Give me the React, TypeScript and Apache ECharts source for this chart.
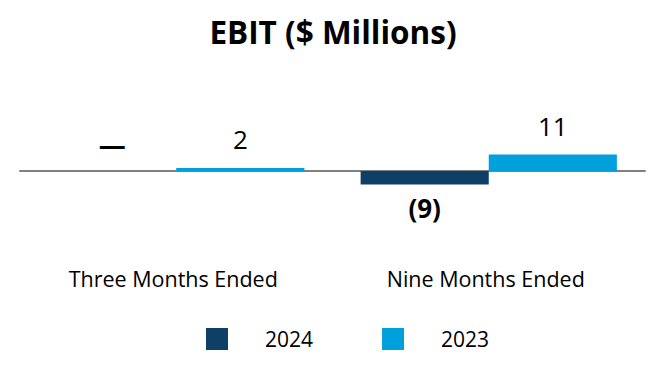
import React, { useEffect, useRef } from "react";
import * as echarts from "echarts";

const categories = ["Three Months Ended", "Nine Months Ended"];
const seriesNames = ["2024", "2023"];
const values2024 = [0, -9];
const values2023 = [2, 11];
const colors = ["#0e3f67", "#00a0dc"];

const FONT = "'Open Sans', 'Noto Sans', sans-serif";

function fmt(v: number): string {
  if (v === 0) return "—";
  if (v < 0) return "(" + Math.abs(v) + ")";
  return String(v);
}

function labelFor(v: number) {
  return {
    show: true,
    position: v < 0 ? "bottom" : "top",
    distance: v < 0 ? 10 : v === 0 ? 13 : 16,
    formatter: fmt(v),
    fontFamily: FONT,
    fontSize: v === 0 ? 27 : 26,
    color: "#000",
    fontWeight: v <= 0 ? "bold" : "normal",
  };
}

export default function App() {
  const ref = useRef<HTMLDivElement>(null);
  useEffect(() => {
    const chart = echarts.init(ref.current!, null, { renderer: "svg" });
    chart.setOption({
      animation: false,
      title: {
        text: "EBIT ($ Millions)",
        left: "center",
        top: 10,
        textStyle: { fontFamily: FONT, fontSize: 31.5, fontWeight: "bold", color: "#000" },
      },
      legend: {
        data: seriesNames,
        left: 206,
        top: 328,
        padding: 0,
        icon: "rect",
        itemWidth: 22,
        itemHeight: 22,
        itemGap: 69,
        textStyle: { fontFamily: FONT, fontSize: 21, color: "#000", padding: [0, 0, 0, 32] },
      },
      grid: { left: 20, right: 21, top: 126, height: 90 },
      xAxis: [
        {
          type: "category",
          data: categories,
          axisLine: { show: true, onZero: true, lineStyle: { color: "#808080", width: 2 } },
          axisTick: { show: false },
          axisLabel: { show: false },
        },
        {
          type: "category",
          data: categories,
          position: "bottom",
          axisLine: { show: false, onZero: false },
          axisTick: { show: false },
          axisLabel: {
            show: true,
            margin: 51,
            fontFamily: FONT,
            fontSize: 21.5,
            color: "#000",
            padding: [0, 6, 0, 0],
          },
        },
      ],
      yAxis: { type: "value", min: -30, max: 30, show: false, splitLine: { show: false } },
      series: [
        {
          name: seriesNames[0],
          type: "bar",
          xAxisIndex: 0,
          barGap: "0%",
          barCategoryGap: "18%",
          itemStyle: { color: colors[0] },
          data: values2024.map((v) => ({ value: v, label: labelFor(v) })),
        },
        {
          name: seriesNames[1],
          type: "bar",
          xAxisIndex: 0,
          barGap: "0%",
          barCategoryGap: "18%",
          itemStyle: { color: colors[1] },
          data: values2023.map((v) => ({ value: v, label: labelFor(v) })),
        },
      ],
    });
    return () => chart.dispose();
  }, []);
  return <div ref={ref} style={{ width: 666, height: 380, margin: -8 }} />;
}
